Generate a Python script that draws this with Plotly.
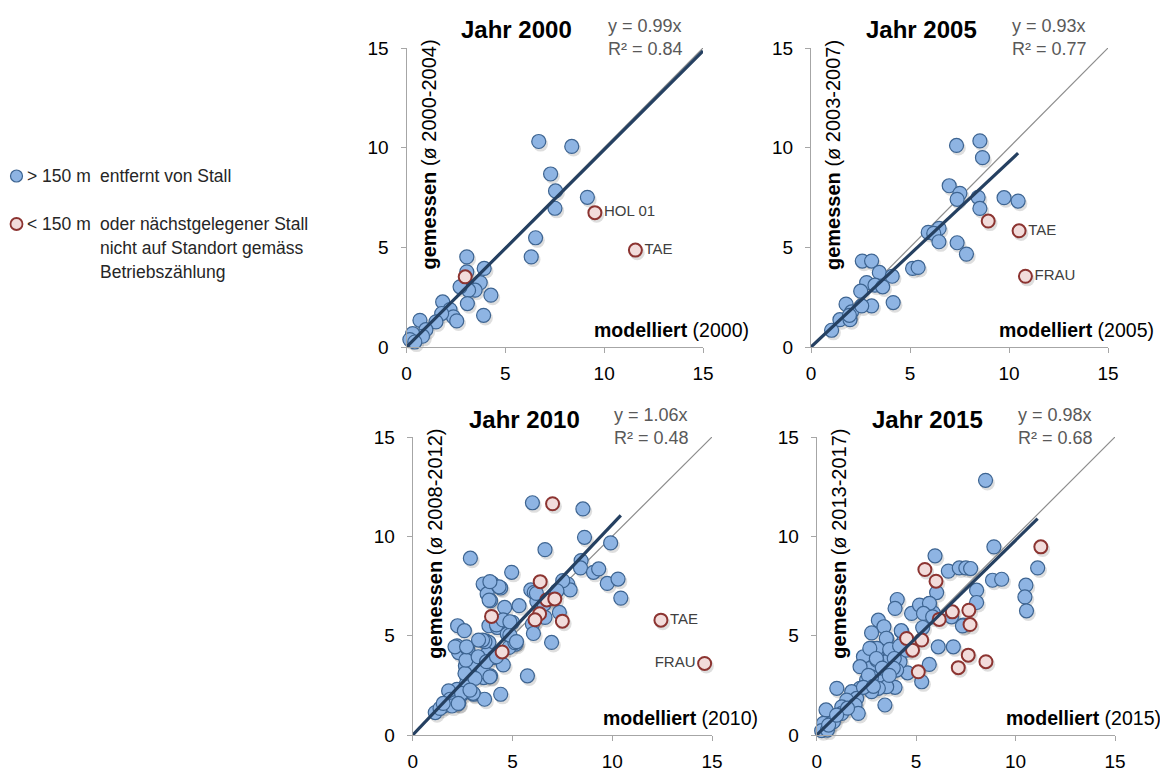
import plotly.graph_objects as go

# ---------------------------------------------------------------- data
years = ["2000", "2005", "2010", "2015"]
meas_periods = ["2000-2004", "2003-2007", "2008-2012", "2013-2017"]
slopes = [0.99, 0.93, 1.06, 0.98]
r_squared = [0.84, 0.77, 0.48, 0.68]
trend_x_end = [15.0, None, None, None]   # None -> up to the largest modelled value

blue_x_2000 = [6.69, 8.36, 7.29, 7.54, 7.51, 9.15, 6.53, 6.31, 3.05, 3.05, 3.93, 3.73, 3.47, 3.14, 2.71,
               4.27, 3.08, 3.90, 1.83, 2.20, 2.37, 2.54, 1.78, 1.49, 0.68, 0.98, 0.81, 0.31, 0.17, 0.42]
blue_y_2000 = [10.31, 10.06, 8.68, 7.83, 6.96, 7.51, 5.48, 4.52, 4.52, 3.77, 3.94, 3.23, 2.85, 2.85, 3.02,
               2.60, 2.18, 1.59, 2.26, 1.88, 1.51, 1.31, 1.68, 1.26, 1.34, 0.87, 0.54, 0.67, 0.37, 0.25]
red_x_2000 = [2.97, 9.53, 11.58]
red_y_2000 = [3.52, 6.74, 4.86]
red_lbl_2000 = ["", "HOL 01", "TAE"]

blue_x_2005 = [8.53, 7.35, 8.66, 6.98, 7.52, 7.38, 8.44, 8.53, 9.75, 10.46, 5.92, 6.47, 6.20, 6.46, 7.38,
               7.85, 5.13, 5.41, 2.59, 3.06, 3.45, 4.10, 2.81, 3.23, 3.62, 2.51, 4.15, 1.77, 2.05, 3.06,
               2.56, 1.46, 1.97, 1.04, 1.94]
blue_y_2005 = [10.34, 10.11, 9.50, 8.09, 7.71, 7.41, 7.51, 6.95, 7.49, 7.32, 5.75, 5.95, 5.70, 5.28, 5.23,
               4.66, 3.94, 3.99, 4.31, 4.31, 3.74, 3.55, 3.23, 3.10, 3.02, 2.80, 2.23, 2.15, 1.76, 2.06,
               2.06, 1.37, 1.37, 0.84, 1.59]
red_x_2005 = [8.95, 10.51, 10.83]
red_y_2005 = [6.32, 5.83, 3.55]
red_lbl_2005 = ["", "TAE", "FRAU"]

blue_x_2010 = [6.00, 8.53, 8.61, 9.92, 6.63, 2.89, 4.96, 8.44, 8.41, 9.06, 9.32, 9.75, 10.29, 10.43, 7.77,
               7.89, 7.52, 7.23, 7.35, 6.96, 5.92, 6.09, 6.22, 6.59, 6.63, 6.00, 6.05, 5.75, 5.33, 4.61,
               3.99, 3.53, 4.41, 3.73, 3.90, 3.82, 4.24, 4.57, 5.00, 4.74, 5.16, 4.83, 4.54, 4.41, 2.25,
               2.59, 2.22, 2.30, 2.76, 3.65, 3.82, 3.73, 4.07, 3.09, 3.34, 2.64, 3.06, 3.56, 3.90, 2.72,
               2.56, 3.06, 3.60, 2.47, 2.22, 1.80, 1.88, 2.14, 2.30, 1.55, 1.13, 1.97, 1.37, 2.70, 2.95,
               2.62, 3.53, 3.87, 3.12, 2.45, 3.03, 1.53, 2.28, 2.67, 3.28, 3.70, 4.20, 2.87, 3.62, 5.12,
               2.12, 2.70, 4.20, 4.87, 5.20, 3.50, 3.30, 6.20, 4.53, 4.87, 3.83, 4.33, 3.87]
blue_y_2010 = [11.69, 11.38, 9.95, 9.67, 9.33, 8.90, 8.19, 8.78, 8.41, 8.19, 8.36, 7.63, 7.85, 6.89, 7.60,
               7.30, 7.77, 7.26, 6.17, 4.66, 7.30, 7.18, 6.73, 6.59, 5.92, 5.58, 5.11, 2.98, 6.51, 6.42,
               7.63, 7.60, 7.40, 7.10, 6.76, 5.50, 5.41, 5.75, 5.67, 5.08, 4.57, 4.41, 3.53, 2.05, 5.50,
               5.25, 4.49, 4.15, 4.32, 4.74, 4.66, 4.07, 3.90, 3.73, 3.40, 3.48, 2.98, 2.89, 2.98, 2.89,
               2.39, 2.05, 1.80, 2.05, 2.30, 2.22, 1.80, 1.63, 1.58, 1.46, 1.13, 1.46, 1.34, 2.60, 3.52,
               3.10, 3.19, 2.93, 2.85, 2.10, 2.10, 1.59, 1.59, 3.77, 3.94, 3.69, 3.94, 2.26, 4.70, 4.65,
               4.44, 4.44, 5.54, 5.03, 4.70, 4.78, 4.78, 7.13, 5.79, 5.70, 6.79, 7.46, 7.72]
red_x_2010 = [7.01, 6.39, 6.72, 7.12, 6.36, 6.13, 7.50, 3.95, 4.48, 12.44, 14.63]
red_y_2010 = [11.64, 7.72, 6.80, 6.85, 6.10, 5.80, 5.73, 5.97, 4.18, 5.78, 3.60]
red_lbl_2010 = ["", "", "", "", "", "", "", "", "", "TAE", "FRAU"]

blue_x_2015 = [8.49, 8.91, 5.95, 6.62, 7.17, 7.50, 7.74, 8.84, 9.30, 8.04, 8.04, 10.52, 10.47, 10.55, 11.11,
               6.03, 5.66, 5.19, 4.77, 5.44, 5.86, 6.78, 5.33, 7.37, 6.11, 6.87, 5.66, 4.57, 5.28, 4.05,
               3.94, 3.10, 3.38, 2.76, 3.52, 4.27, 4.36, 2.81, 3.18, 3.43, 2.35, 3.69, 4.02, 3.18, 3.52,
               4.19, 2.68, 4.02, 3.35, 2.76, 3.94, 3.52, 3.10, 2.51, 2.18, 2.76, 1.76, 2.01, 1.51, 1.93,
               2.09, 3.43, 1.01, 1.26, 1.26, 0.84, 0.47, 0.34, 0.25, 0.54, 2.18, 3.02, 4.52, 5.17, 5.67,
               5.37, 5.83, 7.33, 4.25, 3.50, 3.03, 3.67, 4.17, 2.67, 3.00, 3.90, 3.30, 3.85, 2.60, 3.65,
               2.35, 2.85, 1.55, 0.60, 1.00]
blue_y_2015 = [12.82, 9.47, 9.02, 8.25, 8.41, 8.41, 8.38, 7.79, 7.84, 7.29, 6.67, 7.54, 6.95, 6.25, 8.41,
               7.17, 6.62, 6.50, 6.12, 6.20, 6.15, 5.95, 5.41, 5.53, 4.44, 4.44, 3.55, 3.13, 2.68, 6.82,
               6.37, 5.78, 5.45, 5.14, 4.86, 5.20, 4.69, 4.36, 4.36, 4.27, 3.94, 4.11, 3.94, 3.47, 3.69,
               3.69, 3.35, 3.27, 2.93, 2.93, 2.40, 2.43, 2.35, 2.77, 2.35, 2.18, 2.18, 1.84, 1.76, 1.51,
               1.09, 1.51, 2.35, 1.42, 1.09, 0.67, 1.26, 0.59, 0.22, 0.25, 3.44, 3.77, 4.27, 6.54, 6.63,
               6.12, 5.95, 5.49, 5.25, 4.87, 4.36, 4.31, 4.48, 4.36, 3.85, 3.85, 3.37, 3.37, 3.00, 3.00,
               2.40, 2.45, 1.35, 0.50, 1.00]
red_x_2015 = [5.44, 6.00, 6.16, 6.82, 7.65, 7.71, 7.62, 7.12, 8.51, 4.52, 5.28, 4.82, 5.11, 11.27]
red_y_2015 = [8.33, 7.74, 5.82, 6.20, 6.28, 5.56, 4.02, 3.39, 3.69, 4.86, 4.78, 4.27, 3.18, 9.47]
red_lbl_2015 = [""] * 14

# labels printed on the left of their point
left_labels = {("2010", "FRAU")}

tick_vals = [0, 5, 10, 15]
tick_text = ["0", "5", "10", "15"]

legend_codes = ["> 150 m", "< 150 m"]
legend_lines = [["entfernt von Stall"],
                ["oder nächstgelegener Stall", "nicht auf Standort gemäss", "Betriebszählung"]]

blue_x = [blue_x_2000, blue_x_2005, blue_x_2010, blue_x_2015]
blue_y = [blue_y_2000, blue_y_2005, blue_y_2010, blue_y_2015]
red_x = [red_x_2000, red_x_2005, red_x_2010, red_x_2015]
red_y = [red_y_2000, red_y_2005, red_y_2010, red_y_2015]
red_lbl = [red_lbl_2000, red_lbl_2005, red_lbl_2010, red_lbl_2015]

# ---------------------------------------------------------------- styling
W, H = 1160, 774
FONT = "Liberation Sans, Arial, sans-serif"
BLUE_FILL, BLUE_EDGE = "#8eb4e3", "#3d6491"
RED_FILL, RED_EDGE = "#f2dcdb", "#8c3431"
TREND = "#254061"
AXIS = "#a6a6a6"

# plot areas in pixels: (left, right, top, bottom)
boxes = [(406.5, 703.0, 48.0, 347.0),
         (811.0, 1108.0, 48.0, 347.0),
         (412.7, 712.0, 437.0, 735.0),
         (816.7, 1115.0, 437.0, 735.0)]


def px(x):
    return x / W


def py(y):
    return 1 - y / H


fig = go.Figure()
annotations = []
shapes = []

for i, year in enumerate(years):
    n = "" if i == 0 else str(i + 1)
    xa, ya = "x" + n, "y" + n
    l, r, t, b = boxes[i]
    common = dict(range=[0, 15], tickvals=tick_vals, ticktext=tick_text,
                  showline=True, linecolor=AXIS, linewidth=1, ticks="outside", ticklen=5,
                  tickcolor=AXIS, showgrid=False, zeroline=False, automargin=False,
                  tickfont=dict(family=FONT, size=19, color="#000000"))
    fig.layout["xaxis" + n] = dict(domain=[px(l), px(r)], anchor=ya, ticklabelstandoff=4, **common)
    fig.layout["yaxis" + n] = dict(domain=[py(b), py(t)], anchor=xa, ticklabelstandoff=8, **common)

    bx, by = blue_x[i], blue_y[i]
    rx, ry = red_x[i], red_y[i]

    # soft drop shadow under the points
    fig.add_trace(go.Scatter(
        x=[v + 0.09 for v in bx + rx], y=[v - 0.13 for v in by + ry], mode="markers",
        marker=dict(size=15, color="rgba(0,0,0,0.13)", line=dict(width=0)),
        xaxis=xa, yaxis=ya, hoverinfo="skip", showlegend=False, cliponaxis=False))

    # 1:1 reference line
    fig.add_trace(go.Scatter(
        x=[0, 15], y=[0, 15], mode="lines", line=dict(color="#8c8c8c", width=1.2),
        xaxis=xa, yaxis=ya, hoverinfo="skip", showlegend=False))

    fig.add_trace(go.Scatter(
        x=bx, y=by, mode="markers",
        marker=dict(size=14, color=BLUE_FILL, line=dict(color=BLUE_EDGE, width=1.2)),
        xaxis=xa, yaxis=ya, showlegend=False, cliponaxis=False))

    positions = ["middle left" if (year, s) in left_labels else "middle right" for s in red_lbl[i]]
    fig.add_trace(go.Scatter(
        x=rx, y=ry, mode="markers+text", text=red_lbl[i], textposition=positions,
        textfont=dict(family=FONT, size=15, color="#404040"),
        marker=dict(size=13, color=RED_FILL, line=dict(color=RED_EDGE, width=2)),
        xaxis=xa, yaxis=ya, showlegend=False, cliponaxis=False))

    # regression through the origin
    x_end = trend_x_end[i] if trend_x_end[i] is not None else max(bx)
    fig.add_trace(go.Scatter(
        x=[0, x_end], y=[0, slopes[i] * x_end], mode="lines",
        line=dict(color=TREND, width=3.2),
        xaxis=xa, yaxis=ya, hoverinfo="skip", showlegend=False, cliponaxis=False))

    # panel title
    annotations.append(dict(
        x=px((l + r) / 2 - 38), y=py(t - 18), xref="paper", yref="paper",
        text=f"<b>Jahr {year}</b>", showarrow=False, xanchor="center", yanchor="middle",
        font=dict(family=FONT, size=24, color="#000000")))
    # regression equation, one annotation per line
    for k, line in enumerate([f"y = {slopes[i]:.2f}x", f"R² = {r_squared[i]:.2f}"]):
        annotations.append(dict(
            x=px(l + 199), y=py(t - 22 + 23 * k), xref="paper", yref="paper",
            text=line, showarrow=False, xanchor="left", yanchor="middle",
            font=dict(family=FONT, size=18, color="#595959")))
    # y title inside the plot area
    annotations.append(dict(
        x=px(l + 22), y=py(t + 107), xref="paper", yref="paper", textangle=-90,
        text=f"<b>gemessen</b> (ø {meas_periods[i]})", showarrow=False,
        xanchor="center", yanchor="middle", font=dict(family=FONT, size=20, color="#000000")))
    # x title at the lower right
    annotations.append(dict(
        x=px(r + 48), y=py(b - 17), xref="paper", yref="paper",
        text=f"<b>modelliert</b> ({year})", showarrow=False,
        xanchor="right", yanchor="middle", font=dict(family=FONT, size=19.5, color="#000000")))

# ---------------------------------------------------------------- legend
leg_font = dict(family=FONT, size=17.5, color="#262626")
leg_rows = [176, 224]
for cy, fill, edge, lw, code, lines in zip(
        leg_rows, [BLUE_FILL, RED_FILL], [BLUE_EDGE, RED_EDGE], [1.2, 1.8], legend_codes, legend_lines):
    shapes.append(dict(type="circle", xref="paper", yref="paper",
                       x0=px(10.5), x1=px(22.5), y0=py(cy + 6), y1=py(cy - 6),
                       fillcolor=fill, line=dict(color=edge, width=lw)))
    annotations.append(dict(x=px(25), y=py(cy), xref="paper", yref="paper", text=code,
                            showarrow=False, xanchor="left", yanchor="middle", font=leg_font))
    for k, line in enumerate(lines):
        annotations.append(dict(x=px(98), y=py(cy + 24 * k), xref="paper", yref="paper", text=line,
                                showarrow=False, xanchor="left", yanchor="middle", font=leg_font))

fig.update_layout(
    width=W, height=H, margin=dict(l=0, r=0, t=0, b=0, pad=0, autoexpand=False),
    paper_bgcolor="white", plot_bgcolor="white", showlegend=False,
    annotations=annotations, shapes=shapes, font=dict(family=FONT))

fig.write_html("out.html")
